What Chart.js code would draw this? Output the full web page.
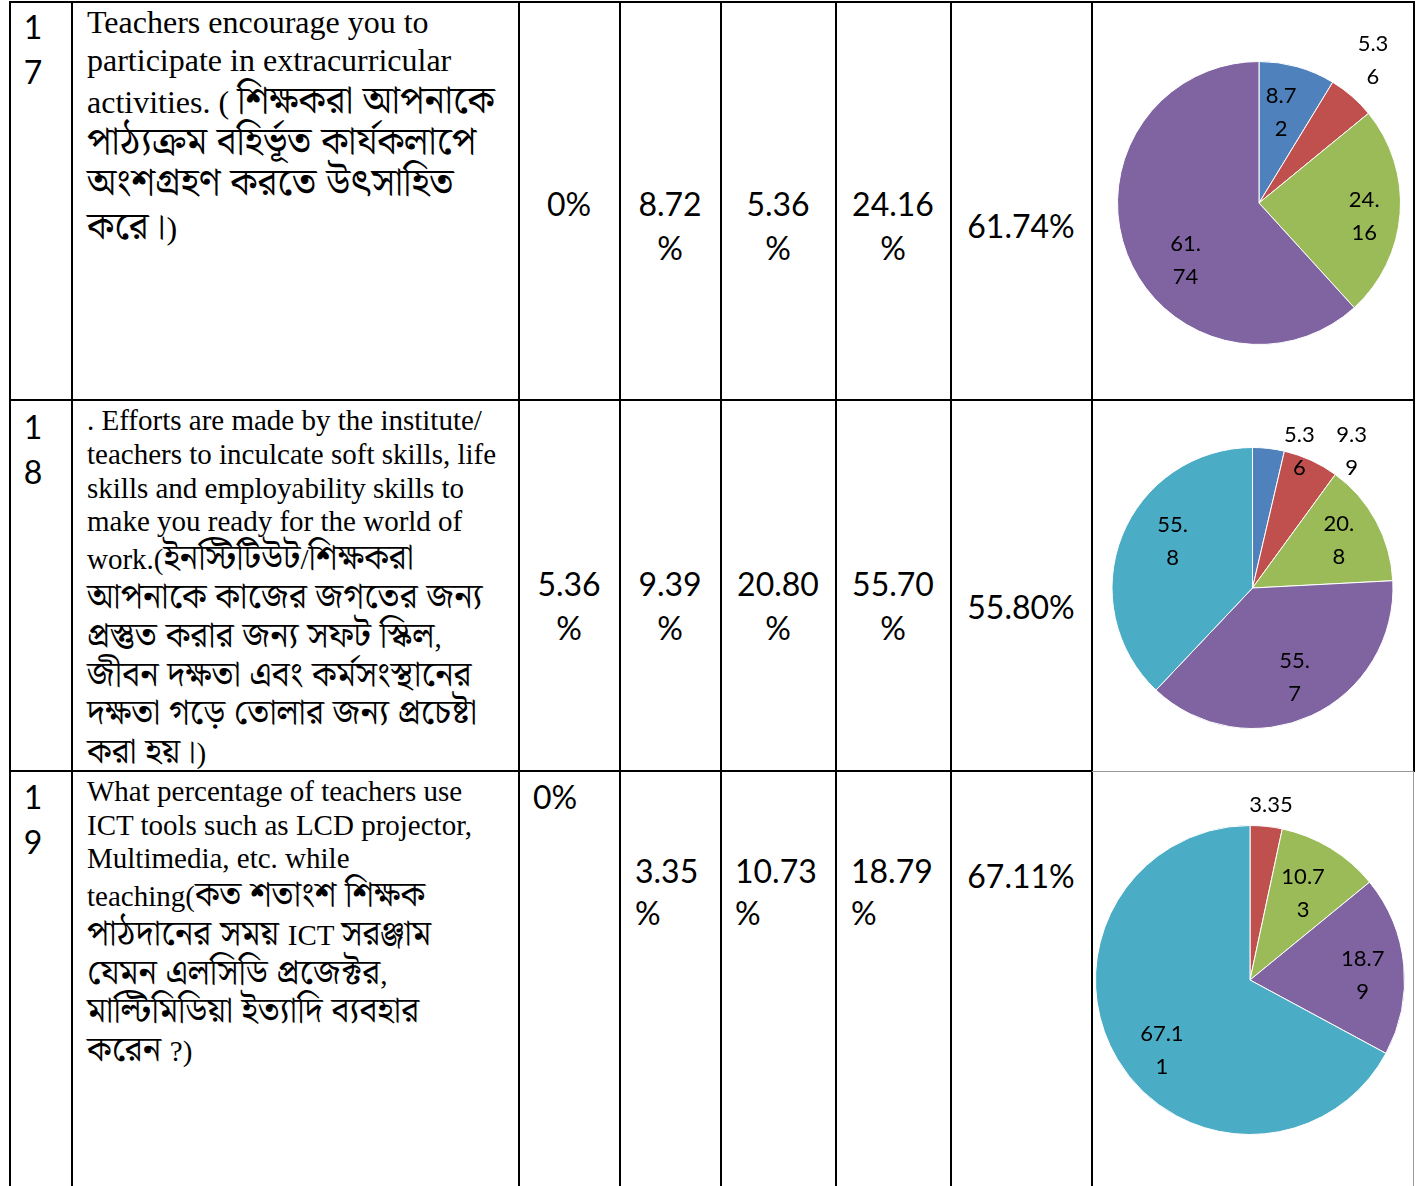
<!DOCTYPE html>
<html>
<head>
<meta charset="utf-8">
<script src="https://cdn.jsdelivr.net/npm/chart.js@4.4.0/dist/chart.umd.min.js"></script>
<style>
body { margin: 0; background: #fff; }
#page { position: relative; width: 1418px; height: 1186px; overflow: hidden; background: #fff; }
.ln { position: absolute; background: #000; }
.t { position: absolute; white-space: nowrap; line-height: 1; color: #000; }
.num { font-family: Lato, "Open Sans", sans-serif; font-size: 32px; }
.q { font-family: "Liberation Serif", "Noto Serif Bengali", "Noto Sans Bengali", "Lohit Bengali", serif; font-size: 29px; }
.q1 { font-size: 32px; }
.bn { font-size: 1.21em; }
canvas { position: absolute; }
</style>
</head>
<body>
<div id="page"></div>
<script>
var rowNumbers = ["17", "18", "19"];

var question17 = [
    "Teachers encourage you to",
    "participate in extracurricular",
    "activities. ( শিক্ষকরা আপনাকে",
    "পাঠ্যক্রম বহির্ভূত কার্যকলাপে",
    "অংশগ্রহণ করতে উৎসাহিত",
    "করে।)"
];
var question18 = [
    ". Efforts are made by the institute/",
    "teachers to inculcate soft skills, life",
    "skills and employability skills to",
    "make you ready for the world of",
    "work.(ইনস্টিটিউট/শিক্ষকরা",
    "আপনাকে কাজের জগতের জন্য",
    "প্রস্তুত করার জন্য সফট স্কিল,",
    "জীবন দক্ষতা এবং কর্মসংস্থানের",
    "দক্ষতা গড়ে তোলার জন্য প্রচেষ্টা",
    "করা হয়।)"
];
var question19 = [
    "What percentage of teachers use",
    "ICT tools such as LCD projector,",
    "Multimedia, etc. while",
    "teaching(কত শতাংশ শিক্ষক",
    "পাঠদানের সময় ICT সরঞ্জাম",
    "যেমন এলসিডি প্রজেক্টর,",
    "মাল্টিমিডিয়া ইত্যাদি ব্যবহার",
    "করেন ?)"
];

var cells17 = ["0%", "8.72\n%", "5.36\n%", "24.16\n%", "61.74%"];
var cells18 = ["5.36\n%", "9.39\n%", "20.80\n%", "55.70\n%", "55.80%"];
var cells19 = ["0%", "3.35\n%", "10.73\n%", "18.79\n%", "67.11%"];

var pie17 = [8.72, 5.36, 24.16, 61.74];
var pie18 = [5.36, 9.39, 20.8, 55.7, 55.8];
var pie19 = [0, 3.35, 10.73, 18.79, 67.11];

var pieText17 = [["8.7", "2"], ["5.3", "6"], ["24.", "16"], ["61.", "74"]];
var pieText18 = [["5.3", "6"], ["9.3", "9"], ["20.", "8"], ["55.", "7"], ["55.", "8"]];
var pieText19 = [null, ["3.35"], ["10.7", "3"], ["18.7", "9"], ["67.1", "1"]];

var sliceColors = ["#4F81BD", "#C0504D", "#9BBB59", "#8064A2", "#4BACC6"];

// ---- layout ----
var page = document.getElementById("page");

function line(x, y, w, h, color) {
    var d = document.createElement("div");
    d.className = "ln";
    d.style.left = x + "px"; d.style.top = y + "px";
    d.style.width = w + "px"; d.style.height = h + "px";
    if (color) d.style.background = color;
    page.appendChild(d);
}

function text(str, cls, x, y, align) { // y is the visual middle of the line
    var d = document.createElement("div");
    d.className = "t " + cls;
    // bengali runs are set a bit larger, as in the source document
    str.split(/([\u0980-\u09FF\u0964][\u0980-\u09FF\u0964 ]*)/).forEach(function (part) {
        if (!part) return;
        if (/[\u0980-\u09FF]/.test(part)) {
            var s = document.createElement("span");
            s.className = "bn";
            s.textContent = part;
            d.appendChild(s);
        } else {
            d.appendChild(document.createTextNode(part));
        }
    });
    d.style.left = x + "px";
    d.style.top = y + "px";
    d.style.transform = align === "center" ? "translate(-50%,-50%)" : "translate(0,-50%)";
    page.appendChild(d);
}

// grid
var colX = [10, 72, 519, 620, 721, 836, 951];
colX.forEach(function (x) { line(x - 1, 1, 2, 1186); });
line(1091, 1, 2, 1186);
line(1413, 1, 2, 771);
line(9, 1, 1406, 2);
line(9, 399, 1406, 2);
line(9, 770, 1084, 2);
line(1092, 771, 322, 1, "#9a9a9a");
line(1413, 771, 1, 415, "#9a9a9a");

// row numbers
var numY = [[27, 72], [427, 472], [797, 842]];
rowNumbers.forEach(function (n, i) {
    text(n[0], "num", 33, numY[i][0], "center");
    text(n[1], "num", 33, numY[i][1], "center");
});

// question text
var questions = [question17, question18, question19];
var questionCls = ["q q1", "q", "q"];
var questionY = [
    [22, 60, 100, 141, 182, 226],
    [420, 454, 488, 521, 558, 597, 636, 675, 713, 752],
    [791, 825, 858, 895, 934, 973, 1011, 1050]
];
questions.forEach(function (q, r) {
    q.forEach(function (s, i) { text(s, questionCls[r], 87, questionY[r][i], "left"); });
});

// percentage cells
var cells = [cells17, cells18, cells19];
var cellLayout = [
    { x: [569, 670, 778, 893, 1021], y: [204, 204, 204, 204, 226], gap: 44, align: ["center", "center", "center", "center", "center"] },
    { x: [569, 670, 778, 893, 1021], y: [584, 584, 584, 584, 607], gap: 44, align: ["center", "center", "center", "center", "center"] },
    { x: [533, 635, 735, 851, 1021], y: [797, 871, 871, 871, 876], gap: 42, align: ["left", "left", "left", "left", "center"] }
];
cells.forEach(function (row, r) {
    var L = cellLayout[r];
    row.forEach(function (c, i) {
        c.split("\n").forEach(function (s, k) {
            text(s, "num", L.x[i], L.y[i] + k * L.gap, L.align[i]);
        });
    });
});

// ---- pies ----
var sliceLabels = {
    id: "sliceLabels",
    afterDatasetsDraw: function (chart, args, opts) {
        var ctx = chart.ctx;
        var meta = chart.getDatasetMeta(0);
        ctx.save();
        ctx.font = "22px Lato, 'Open Sans', sans-serif";
        ctx.fillStyle = "#000";
        ctx.textAlign = "center";
        ctx.textBaseline = "middle";
        meta.data.forEach(function (arc, i) {
            var lines = opts.texts[i];
            if (!lines) return;
            var p = arc.getProps(["x", "y", "startAngle", "endAngle", "outerRadius"], true);
            var a = (p.startAngle + p.endAngle) / 2 + opts.place[i][0] * Math.PI / 180;
            var r = p.outerRadius * opts.place[i][1];
            var cx = p.x + Math.cos(a) * r;
            var cy = p.y + Math.sin(a) * r;
            var lh = 33;
            lines.forEach(function (s, k) {
                ctx.fillText(s, cx, cy + (k - (lines.length - 1) / 2) * lh);
            });
        });
        ctx.restore();
    }
};

function makePie(values, texts, place, box, pad) {
    var cv = document.createElement("canvas");
    cv.width = box.w; cv.height = box.h;
    cv.style.left = box.x + "px"; cv.style.top = box.y + "px";
    cv.style.width = box.w + "px"; cv.style.height = box.h + "px";
    page.appendChild(cv);
    new Chart(cv, {
        type: "pie",
        data: {
            labels: values.map(function (v, i) { return "s" + i; }),
            datasets: [{
                data: values,
                backgroundColor: sliceColors.slice(0, values.length),
                borderColor: "#ffffff",
                borderWidth: 1
            }]
        },
        options: {
            responsive: false,
            animation: false,
            events: [],
            layout: { padding: pad },
            plugins: {
                legend: { display: false },
                tooltip: { enabled: false },
                sliceLabels: { texts: texts, place: place }
            }
        },
        plugins: [sliceLabels]
    });
}

// label placement: [angle shift in degrees, distance as share of radius]
makePie(pie17, pieText17, [[-2, 0.66], [-2.4, 1.29], [3.3, 0.75], [-17, 0.66]],
    { x: 1094, y: 4, w: 318, h: 394 }, { left: 23, right: 11, top: 57, bottom: 53 });
makePie(pie18, pieText18, [[12.3, 1.03], [11.4, 1.2], [-0.2, 0.7], [-0.5, 0.7], [8.7, 0.66]],
    { x: 1094, y: 402, w: 318, h: 367 }, { left: 17, right: 18, top: 45, bottom: 40 });
makePie(pie19, pieText19, [[0, 0], [0.8, 1.14], [0, 0.66], [3, 0.73], [-7.8, 0.73]],
    { x: 1094, y: 773, w: 318, h: 413 }, { left: 1, right: 7, top: 52, bottom: 51 });
</script>
</body>
</html>
